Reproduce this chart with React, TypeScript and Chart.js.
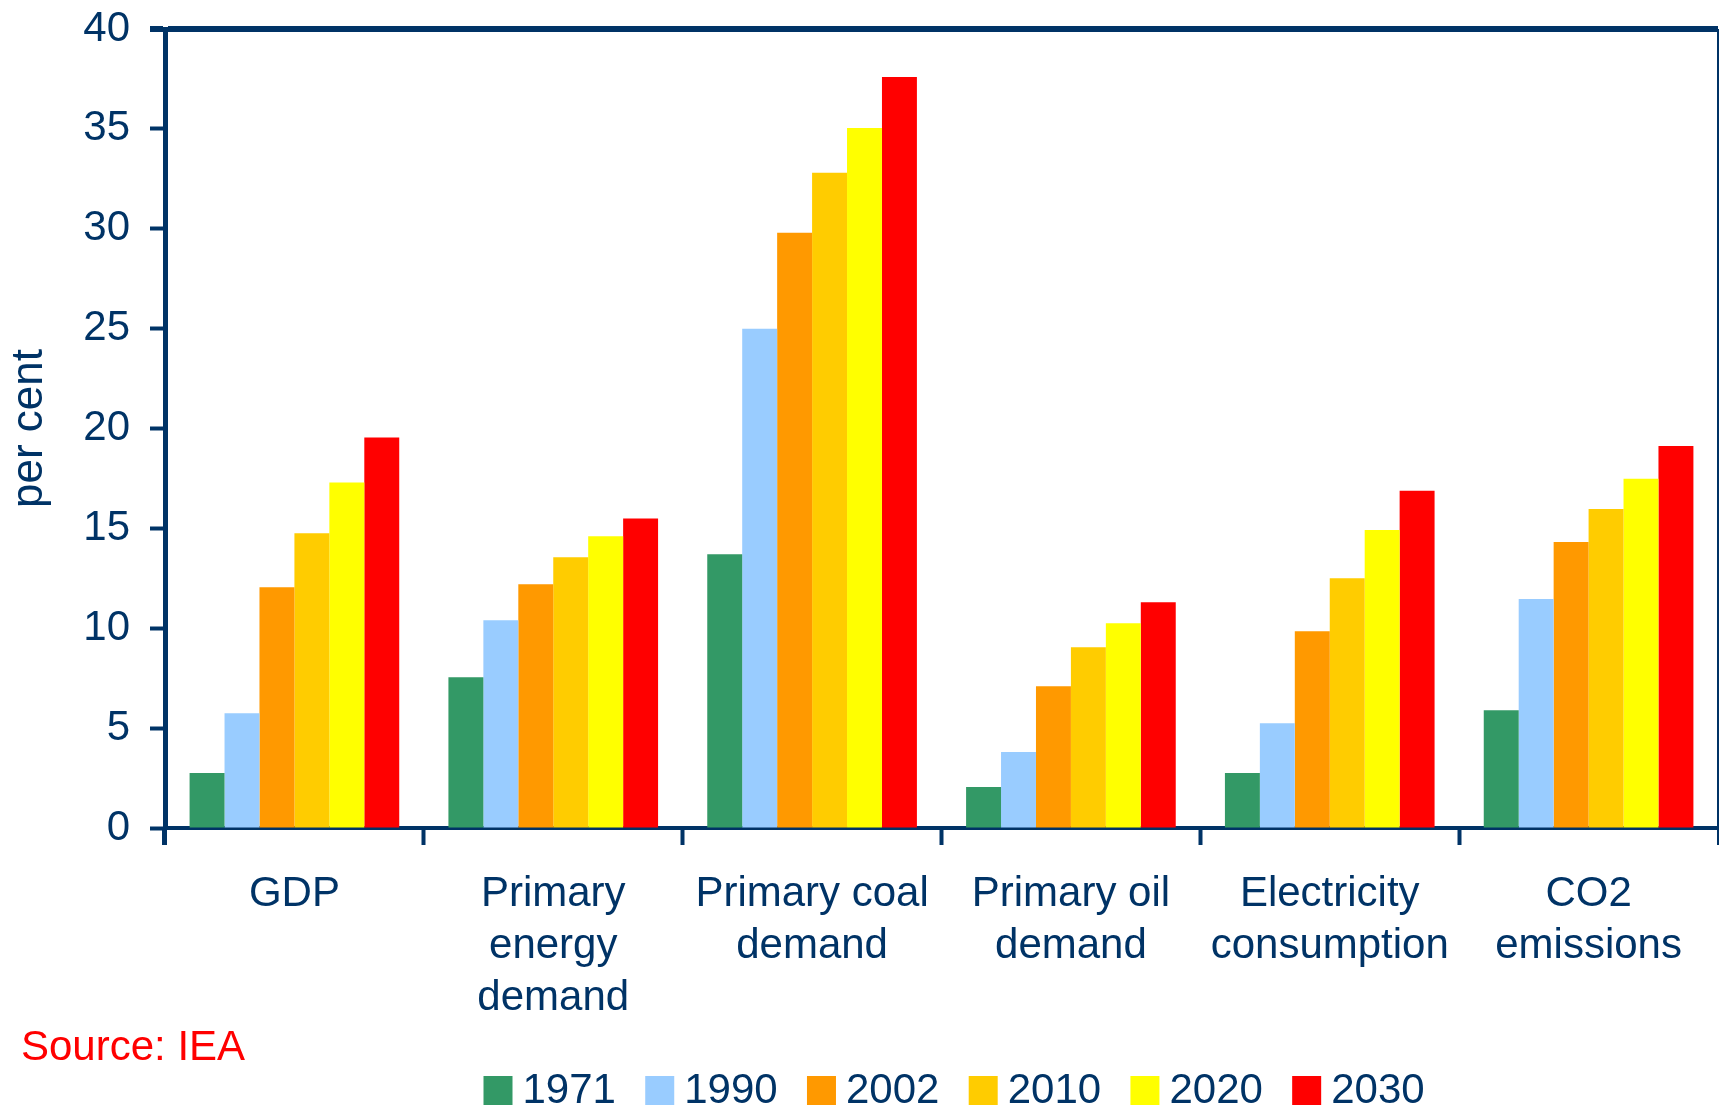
import React, { useEffect, useRef } from 'react';
import { Chart, registerables } from 'chart.js';

Chart.register(...registerables);

// ---------- data ----------
const categories: string[][] = [
  ['GDP'],
  ['Primary', 'energy', 'demand'],
  ['Primary coal', 'demand'],
  ['Primary oil', 'demand'],
  ['Electricity', 'consumption'],
  ['CO2', 'emissions'],
];

const seriesLabels = ['1971', '1990', '2002', '2010', '2020', '2030'];
const seriesColors = ['#339966', '#99CCFF', '#FF9900', '#FFCC00', '#FFFF00', '#FF0000'];

const values1971 = [2.75, 7.55, 13.7, 2.05, 2.75, 5.9];
const values1990 = [5.75, 10.4, 25.0, 3.8, 5.25, 11.47];
const values2002 = [12.05, 12.2, 29.8, 7.1, 9.85, 14.32];
const values2010 = [14.75, 13.55, 32.8, 9.05, 12.5, 15.97];
const values2020 = [17.3, 14.6, 35.05, 10.25, 14.92, 17.48];
const values2030 = [19.55, 15.5, 37.6, 11.3, 16.88, 19.13];

const seriesValues = [values1971, values1990, values2002, values2010, values2020, values2030];

const yMin = 0;
const yMax = 40;
const yStep = 5;

const yTitle = 'per cent';
const sourceText = 'Source: IEA';

// ---------- styles ----------
const NAVY = '#003366';
const FONT = '"Liberation Sans", Arial, Helvetica, sans-serif';
const W = 1719;
const H = 1105;

const overlayPlugin = {
  id: 'overlay',
  afterDraw(chart: any) {
    const ctx = chart.ctx as CanvasRenderingContext2D;
    ctx.save();
    ctx.font = `42px ${FONT}`;
    ctx.textBaseline = 'alphabetic';
    ctx.textAlign = 'left';
    // legend
    let x = 483.5;
    const box = 29;
    chart.data.datasets.forEach((ds: any) => {
      ctx.fillStyle = ds.backgroundColor;
      ctx.fillRect(x, 1076, box, box);
      ctx.fillStyle = NAVY;
      ctx.fillText(ds.label, x + box + 10, 1103);
      x += box + 10 + ctx.measureText(ds.label).width + 29.3;
    });
    // source
    ctx.fillStyle = '#FF0000';
    ctx.fillText(sourceText, 21, 1060);
    ctx.restore();
  },
};

export default function App() {
  const ref = useRef<HTMLCanvasElement | null>(null);

  useEffect(() => {
    if (!ref.current) return;
    Chart.defaults.font.family = FONT;
    const chart = new Chart(ref.current, {
      type: 'bar',
      data: {
        labels: categories,
        datasets: seriesLabels.map((label, i) => ({
          label,
          data: seriesValues[i],
          backgroundColor: seriesColors[i],
          borderWidth: 0,
          categoryPercentage: 0.81,
          barPercentage: 1.0,
        })),
      },
      options: {
        responsive: false,
        animation: false,
        layout: { padding: { top: 29, right: 1, bottom: 0, left: 0 } },
        plugins: {
          legend: { display: false },
          tooltip: { enabled: false },
          title: { display: false },
        },
        scales: {
          x: {
            offset: true,
            border: { display: true, color: NAVY, width: 4 },
            grid: {
              offset: true,
              drawOnChartArea: true,
              drawTicks: true,
              tickLength: 17,
              color: (c: any) => (c.type === 'scale' ? NAVY : 'rgba(0,0,0,0)'),
              lineWidth: (c: any) => (c.type === 'scale' ? 2 : 1),
              tickColor: NAVY,
              tickWidth: (c: any) => (c.type === 'scale' ? 2 : c.index === 0 ? 5 : 4),
            },
            ticks: {
              color: NAVY,
              font: { size: 42, lineHeight: 1.24 },
              padding: 23,
              maxRotation: 0,
              minRotation: 0,
              autoSkip: false,
            },
            afterFit: (scale: any) => {
              scale.height = 277;
              scale.paddingLeft = 0;
              scale.paddingRight = 0;
            },
          },
          y: {
            min: yMin,
            max: yMax,
            border: { display: true, color: NAVY, width: 5 },
            grid: {
              drawOnChartArea: true,
              drawTicks: true,
              tickLength: 15,
              color: (c: any) => (c.tick && c.tick.value === yMax ? NAVY : 'rgba(0,0,0,0)'),
              lineWidth: (c: any) => (c.tick && c.tick.value === yMax ? 6 : 1),
              tickColor: NAVY,
              tickWidth: (c: any) => (c.tick && c.tick.value === yMax ? 6 : 4),
            },
            ticks: {
              stepSize: yStep,
              color: NAVY,
              font: { size: 42 },
              padding: 20,
            },
            title: {
              display: true,
              text: yTitle,
              color: NAVY,
              font: { size: 44 },
              padding: { top: 3, bottom: 0 },
            },
            afterFit: (scale: any) => {
              scale.width = 165;
              scale.paddingTop = 0;
              scale.paddingBottom = 0;
            },
          },
        },
      },
      plugins: [overlayPlugin],
    });
    return () => chart.destroy();
  }, []);

  return (
    <div
      style={{
        position: 'fixed',
        left: 0,
        top: 0,
        width: W,
        height: H,
        background: '#ffffff',
      }}
    >
      <canvas ref={ref} width={W} height={H} style={{ display: 'block' }} />
    </div>
  );
}
